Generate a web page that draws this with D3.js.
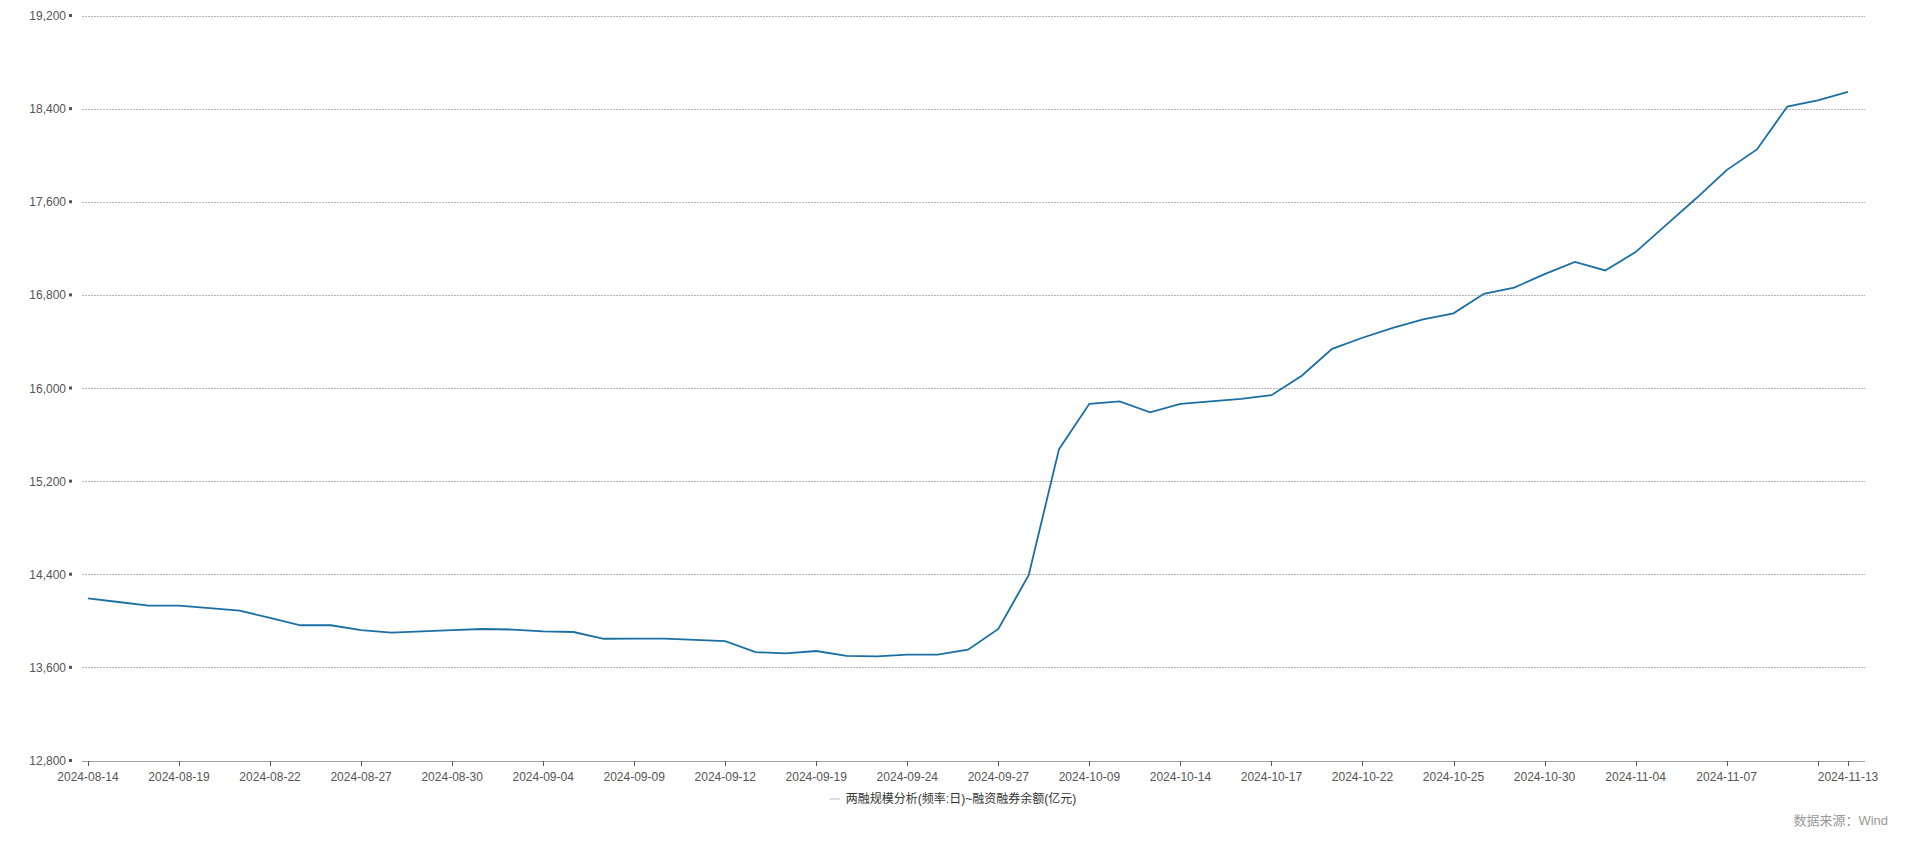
<!DOCTYPE html>
<html><head><meta charset="utf-8">
<script src="https://cdn.jsdelivr.net/npm/d3@7"></script>
<style>body{margin:0;background:#fff;}svg{display:block;font-family:"Liberation Sans","Noto Sans CJK SC",sans-serif;}</style>
</head><body><svg id="c" width="1918" height="842"></svg>
<script>
const tickLabels = ["2024-08-14","2024-08-19","2024-08-22","2024-08-27","2024-08-30","2024-09-04","2024-09-09","2024-09-12","2024-09-19","2024-09-24","2024-09-27","2024-10-09","2024-10-14","2024-10-17","2024-10-22","2024-10-25","2024-10-30","2024-11-04","2024-11-07","2024-11-13"];
const values = [14197,14166,14134,14134,14113,14092,14029,13966,13966,13924,13903,13913,13924,13934,13929,13913,13908,13850,13852,13852,13840,13830,13735,13724,13745,13703,13698,13714,13714,13756,13934,14397,15479,15868,15889,15795,15868,15889,15910,15942,16110,16341,16436,16520,16594,16646,16814,16867,16982,17087,17014,17172,17403,17634,17876,18054,18422,18475,18548];
const yTicks = [12800,13600,14400,15200,16000,16800,17600,18400,19200];
const legendText = "两融规模分析(频率:日)~融资融券余额(亿元)";
const sourceText = "数据来源：Wind";

const svg = d3.select("#c");
const L=82, R=1865, T=16, B=761;
const x = d3.scaleLinear().domain([0, values.length-1]).range([88,1848]);
const y = d3.scaleLinear().domain([12800,19200]).range([B,T]);

svg.append("g").selectAll("line").data(yTicks.slice(1)).join("line")
  .attr("x1",L).attr("x2",R).attr("y1",d=>y(d)).attr("y2",d=>y(d))
  .attr("stroke","#b5b5b5").attr("stroke-dasharray","1.5,1.5").attr("shape-rendering","crispEdges");
const yg = svg.append("g");
yg.selectAll("text").data(yTicks).join("text")
  .attr("x",66).attr("y",d=>y(d)+4).attr("text-anchor","end")
  .attr("font-size",12).attr("fill","#555").text(d3.format(","));
yg.selectAll("rect").data(yTicks).join("rect")
  .attr("x",69).attr("y",d=>y(d)-2).attr("width",3).attr("height",3).attr("fill","#555");

svg.append("line").attr("x1",L).attr("x2",R).attr("y1",B+0.5).attr("y2",B+0.5).attr("stroke","#a0a0a0");
const tickIdx = tickLabels.map((d,i)=> i===tickLabels.length-1 ? values.length-1 : i*3);
const xg = svg.append("g");
xg.selectAll("line").data(tickIdx.concat([57])).join("line")
  .attr("x1",d=>Math.round(x(d))+0.5).attr("x2",d=>Math.round(x(d))+0.5).attr("y1",B).attr("y2",B+5).attr("stroke","#555");
xg.selectAll("text").data(tickLabels).join("text")
  .attr("x",(d,i)=>x(tickIdx[i])).attr("y",B+20).attr("text-anchor","middle")
  .attr("font-size",12).attr("fill","#555").text(d=>d);

svg.append("path").datum(values)
  .attr("d", d3.line().x((d,i)=>x(i)).y(d=>y(d)))
  .attr("fill","none").attr("stroke","#1a6fa3").attr("stroke-width",1.8);

const lg = svg.append("g");
const lt = lg.append("text").attr("x",961).attr("y",803).attr("text-anchor","middle")
  .attr("font-size",12).attr("fill","#333").text(legendText);
const w = lt.node().getComputedTextLength();
lg.append("line").attr("x1",961-w/2-16).attr("x2",961-w/2-6).attr("y1",799).attr("y2",799).attr("stroke","#bbb");

svg.append("text").attr("x",1888).attr("y",825).attr("text-anchor","end")
  .attr("font-size",13).attr("fill","#999").text(sourceText);
</script></body></html>
